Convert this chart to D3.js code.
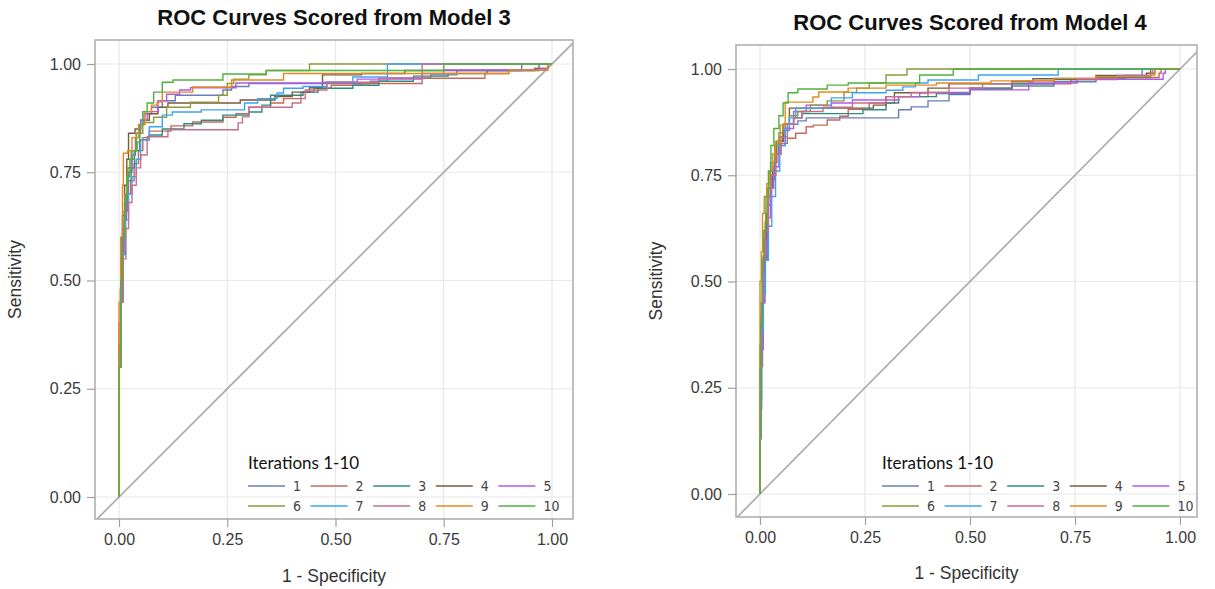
<!DOCTYPE html>
<meta charset="utf-8">
<style>
body { margin: 0; background: #fff; }
text { font-family: "Liberation Sans", Arial, sans-serif; fill: #333; }
.grid line { stroke: #e8e8e8; stroke-width: 1.2px; }
.frame { fill: none; stroke: #b0b0b0; stroke-width: 1.6px; }
.diag { stroke: #a9a9a9; stroke-width: 1.6px; }
.axis path { display: none; }
.axis line { stroke: #a0a0a0; stroke-width: 1.2px; }
.axis text { font-size: 16px; fill: #3a3a3a; }
.title { font-size: 22px; font-weight: bold; fill: #111; }
.alabel { font-size: 17.5px; fill: #333; }
.ltitle { font-family: Lato, "Open Sans", sans-serif; font-size: 17px; fill: #111; }
.lnum { font-family: "DejaVu Sans Condensed", "DejaVu Sans", sans-serif; font-stretch: condensed; font-size: 14px; fill: #444; }
.roc { fill: none; stroke-width: 1.4px; }
</style>
<svg width="1215" height="589"></svg>
<script src="https://cdn.jsdelivr.net/npm/d3@7"></script>
<script>

var iterations = ["1", "2", "3", "4", "5", "6", "7", "8", "9", "10"];
var colors = ["#6b7dbf", "#c7685a", "#2e8c80", "#7a5a38", "#b05ae6",
              "#8f9a3a", "#3fa2f5", "#c66e8f", "#e38a1f", "#4db33f"];
var ticks = [0, 0.25, 0.5, 0.75, 1];

// Model 3, points are [1 - specificity, sensitivity]
var m3_1 = [[0,0],[0,0.33],[0.004,0.45],[0.008,0.56],[0.012,0.64],[0.017,0.7],[0.022,0.75],[0.03,0.79],[0.038,0.83],[0.047,0.86],[0.058,0.885],[0.075,0.9],[0.1,0.915],[0.13,0.928],[0.24,0.94],[0.26,0.948],[0.3,0.955],[0.58,0.96],[0.62,0.968],[0.72,0.975],[0.78,0.985],[0.93,1],[1,1]];
var m3_2 = [[0,0],[0,0.4],[0.003,0.48],[0.006,0.6],[0.012,0.66],[0.02,0.7],[0.027,0.73],[0.035,0.77],[0.045,0.8],[0.055,0.83],[0.07,0.845],[0.12,0.857],[0.17,0.866],[0.24,0.877],[0.27,0.885],[0.3,0.9],[0.35,0.91],[0.38,0.92],[0.42,0.935],[0.45,0.944],[0.49,0.951],[0.56,0.955],[0.7,0.967],[0.845,0.978],[0.9,0.986],[0.99,1],[1,1]];
var m3_3 = [[0,0],[0,0.32],[0.004,0.5],[0.008,0.6],[0.013,0.68],[0.02,0.73],[0.028,0.76],[0.036,0.8],[0.048,0.825],[0.07,0.836],[0.1,0.85],[0.15,0.862],[0.19,0.87],[0.24,0.882],[0.3,0.889],[0.33,0.905],[0.35,0.928],[0.425,0.935],[0.46,0.944],[0.54,0.951],[0.6,0.96],[0.68,0.972],[0.76,0.978],[0.85,0.985],[0.97,1],[1,1]];
var m3_4 = [[0,0],[0,0.35],[0.004,0.55],[0.008,0.65],[0.013,0.72],[0.018,0.78],[0.022,0.84],[0.037,0.85],[0.05,0.87],[0.07,0.885],[0.09,0.9],[0.113,0.91],[0.28,0.917],[0.36,0.925],[0.4,0.935],[0.44,0.945],[0.47,0.975],[0.56,0.978],[0.66,0.985],[0.96,0.99],[0.99,1],[1,1]];
var m3_5 = [[0,0],[0,0.3],[0.005,0.5],[0.01,0.62],[0.015,0.7],[0.02,0.76],[0.03,0.8],[0.04,0.84],[0.05,0.87],[0.065,0.89],[0.09,0.915],[0.11,0.93],[0.14,0.94],[0.165,0.945],[0.27,0.956],[0.47,0.958],[0.55,0.965],[0.7,0.978],[0.75,0.986],[0.97,0.99],[0.99,1],[1,1]];
var m3_6 = [[0,0],[0,0.35],[0.004,0.52],[0.008,0.62],[0.013,0.7],[0.02,0.76],[0.028,0.8],[0.04,0.84],[0.055,0.865],[0.08,0.877],[0.11,0.9],[0.165,0.912],[0.23,0.928],[0.25,0.955],[0.265,0.965],[0.3,0.975],[0.34,0.985],[0.44,1],[1,1]];
var m3_7 = [[0,0],[0,0.33],[0.005,0.45],[0.01,0.56],[0.015,0.64],[0.022,0.7],[0.03,0.74],[0.04,0.78],[0.05,0.825],[0.07,0.855],[0.1,0.882],[0.123,0.889],[0.19,0.894],[0.29,0.91],[0.32,0.92],[0.365,0.933],[0.38,0.944],[0.425,0.948],[0.48,0.958],[0.54,0.97],[0.62,1],[1,1]];
var m3_8 = [[0,0],[0,0.3],[0.005,0.45],[0.01,0.55],[0.016,0.62],[0.022,0.68],[0.03,0.72],[0.04,0.76],[0.05,0.79],[0.065,0.832],[0.113,0.848],[0.275,0.864],[0.285,0.878],[0.3,0.9],[0.4,0.91],[0.42,0.92],[0.43,0.94],[0.48,0.958],[0.6,0.967],[0.7,1],[1,1]];
var m3_9 = [[0,0],[0,0.45],[0.004,0.6],[0.008,0.72],[0.01,0.794],[0.02,0.8],[0.03,0.83],[0.045,0.86],[0.06,0.89],[0.075,0.905],[0.088,0.912],[0.1,0.935],[0.17,0.947],[0.26,0.963],[0.38,0.978],[0.9,0.986],[0.99,1],[1,1]];
var m3_10 = [[0,0],[0,0.3],[0.004,0.5],[0.008,0.6],[0.013,0.68],[0.018,0.74],[0.025,0.78],[0.035,0.8],[0.042,0.82],[0.048,0.86],[0.055,0.89],[0.065,0.91],[0.08,0.935],[0.1,0.958],[0.125,0.963],[0.24,0.977],[0.34,0.985],[0.75,1],[1,1]];

// Model 4
var m4_1 = [[0,0],[0,0.13],[0.003,0.3],[0.006,0.45],[0.01,0.55],[0.015,0.63],[0.02,0.7],[0.027,0.75],[0.035,0.8],[0.045,0.83],[0.055,0.855],[0.07,0.87],[0.09,0.878],[0.11,0.885],[0.33,0.904],[0.36,0.911],[0.4,0.925],[0.45,0.94],[0.5,0.952],[0.6,0.96],[0.7,0.97],[0.8,0.978],[0.87,0.985],[0.91,1],[1,1]];
var m4_2 = [[0,0],[0,0.35],[0.003,0.45],[0.007,0.55],[0.012,0.62],[0.018,0.7],[0.025,0.76],[0.035,0.8],[0.05,0.825],[0.065,0.837],[0.085,0.849],[0.11,0.864],[0.127,0.868],[0.16,0.88],[0.19,0.889],[0.21,0.905],[0.26,0.92],[0.32,0.935],[0.4,0.945],[0.5,0.955],[0.6,0.965],[0.74,0.975],[0.85,0.98],[0.95,0.99],[0.955,1],[1,1]];
var m4_3 = [[0,0],[0,0.2],[0.003,0.4],[0.007,0.52],[0.012,0.6],[0.018,0.68],[0.025,0.74],[0.035,0.8],[0.045,0.84],[0.06,0.87],[0.08,0.885],[0.1,0.895],[0.245,0.904],[0.3,0.92],[0.33,0.935],[0.42,0.942],[0.5,0.955],[0.6,0.965],[0.7,0.975],[0.8,0.98],[0.93,0.99],[0.94,1],[1,1]];
var m4_4 = [[0,0],[0,0.25],[0.002,0.42],[0.006,0.52],[0.01,0.6],[0.015,0.66],[0.02,0.72],[0.03,0.78],[0.04,0.83],[0.055,0.87],[0.07,0.908],[0.27,0.915],[0.3,0.935],[0.32,0.944],[0.4,0.955],[0.45,0.965],[0.6,0.97],[0.65,0.977],[0.8,0.985],[0.92,0.99],[0.93,1],[1,1]];
var m4_5 = [[0,0],[0,0.2],[0.004,0.34],[0.008,0.45],[0.012,0.55],[0.018,0.65],[0.025,0.72],[0.033,0.77],[0.045,0.82],[0.06,0.86],[0.08,0.9],[0.11,0.915],[0.17,0.92],[0.22,0.927],[0.33,0.935],[0.38,0.944],[0.5,0.951],[0.64,0.967],[0.755,0.976],[0.96,0.99],[0.965,1],[1,1]];
var m4_6 = [[0,0],[0,0.3],[0.003,0.45],[0.007,0.56],[0.012,0.64],[0.018,0.72],[0.025,0.78],[0.035,0.82],[0.045,0.85],[0.055,0.87],[0.07,0.89],[0.09,0.9],[0.12,0.915],[0.16,0.925],[0.2,0.945],[0.23,0.955],[0.26,0.967],[0.3,0.986],[0.35,1],[1,1]];
var m4_7 = [[0,0],[0,0.22],[0.004,0.38],[0.008,0.47],[0.013,0.55],[0.02,0.63],[0.028,0.7],[0.037,0.76],[0.047,0.82],[0.06,0.86],[0.07,0.885],[0.085,0.908],[0.17,0.932],[0.22,0.944],[0.3,0.95],[0.34,0.958],[0.37,0.967],[0.4,0.974],[0.52,0.986],[0.71,1],[1,1]];
var m4_8 = [[0,0],[0,0.3],[0.004,0.45],[0.008,0.55],[0.013,0.62],[0.02,0.7],[0.028,0.75],[0.038,0.8],[0.05,0.84],[0.065,0.87],[0.08,0.885],[0.1,0.9],[0.15,0.91],[0.22,0.92],[0.3,0.935],[0.36,0.945],[0.45,0.955],[0.53,0.965],[0.6,0.972],[0.7,0.978],[0.85,0.985],[0.93,0.99],[0.935,1],[1,1]];
var m4_9 = [[0,0],[0,0.5],[0.003,0.57],[0.006,0.66],[0.01,0.7],[0.016,0.73],[0.022,0.76],[0.03,0.8],[0.037,0.83],[0.048,0.868],[0.06,0.922],[0.126,0.934],[0.14,0.946],[0.21,0.955],[0.3,0.962],[0.42,0.967],[0.55,0.972],[0.7,0.978],[0.8,0.982],[0.93,0.986],[0.94,1],[1,1]];
var m4_10 = [[0,0],[0,0.14],[0.002,0.4],[0.005,0.55],[0.009,0.62],[0.014,0.7],[0.02,0.76],[0.026,0.82],[0.033,0.86],[0.045,0.89],[0.055,0.92],[0.067,0.944],[0.09,0.953],[0.16,0.962],[0.21,0.967],[0.38,0.986],[0.46,1],[1,1]];

var model3 = [m3_1, m3_2, m3_3, m3_4, m3_5, m3_6, m3_7, m3_8, m3_9, m3_10];
var model4 = [m4_1, m4_2, m4_3, m4_4, m4_5, m4_6, m4_7, m4_8, m4_9, m4_10];

var svg = d3.select("svg");

function drawPanel(p) {
  var x = d3.scaleLinear().domain([0, 1]).range([p.x0, p.x1]),
      y = d3.scaleLinear().domain([0, 1]).range([p.y0, p.y1]);
  var g = svg.append("g");

  g.append("clipPath").attr("id", p.id)
    .append("rect")
      .attr("x", p.left).attr("y", p.top)
      .attr("width", p.right - p.left).attr("height", p.bottom - p.top);

  var grid = g.append("g").attr("class", "grid");
  grid.selectAll(".vx").data(ticks).enter().append("line")
      .attr("x1", x).attr("x2", x)
      .attr("y1", p.top).attr("y2", p.bottom);
  grid.selectAll(".hy").data(ticks).enter().append("line")
      .attr("y1", y).attr("y2", y)
      .attr("x1", p.left).attr("x2", p.right);

  g.append("line").attr("class", "diag")
      .attr("clip-path", "url(#" + p.id + ")")
      .attr("x1", x(-0.2)).attr("y1", y(-0.2))
      .attr("x2", x(1.2)).attr("y2", y(1.2));

  // legend
  var lg = g.append("g");
  lg.append("text").attr("class", "ltitle")
      .attr("x", p.legX).attr("y", p.legY)
      .text("Iterations 1-10");
  var item = lg.selectAll(".item").data(iterations).enter().append("g")
      .attr("transform", function(d, i) {
        return "translate(" + (p.legX + (i % 5) * 62.6) + "," + (p.legY + 17 + Math.floor(i / 5) * 20) + ")";
      });
  item.append("line")
      .attr("x1", 0).attr("x2", 37)
      .attr("stroke", function(d, i) { return colors[i]; })
      .attr("stroke-width", 1.6);
  item.append("text").attr("class", "lnum")
      .attr("x", 45).attr("y", 5)
      .text(function(d) { return d; });

  var line = d3.line()
      .x(function(d) { return x(d[0]); })
      .y(function(d) { return y(d[1]); })
      .curve(d3.curveStepAfter);

  g.append("g").selectAll("path").data(p.curves).enter().append("path")
      .attr("class", "roc")
      .attr("stroke", function(d, i) { return colors[i]; })
      .attr("d", line);

  g.append("rect").attr("class", "frame")
      .attr("x", p.left).attr("y", p.top)
      .attr("width", p.right - p.left).attr("height", p.bottom - p.top);

  g.append("g").attr("class", "axis")
      .attr("transform", "translate(0," + p.bottom + ")")
      .call(d3.axisBottom(x).tickValues(ticks).tickFormat(d3.format(".2f")).tickSize(8).tickPadding(7));
  g.append("g").attr("class", "axis")
      .attr("transform", "translate(" + p.left + ",0)")
      .call(d3.axisLeft(y).tickValues(ticks).tickFormat(d3.format(".2f")).tickSize(8).tickPadding(6));

  g.append("text").attr("class", "title")
      .attr("x", p.titleX).attr("y", p.titleY)
      .attr("text-anchor", "middle")
      .text(p.title);
  g.append("text").attr("class", "alabel")
      .attr("x", (p.left + p.right) / 2).attr("y", p.xlabY)
      .attr("text-anchor", "middle")
      .text("1 - Specificity");
  g.append("text").attr("class", "alabel")
      .attr("transform", "translate(" + p.ylabX + "," + ((p.top + p.bottom) / 2) + ") rotate(-90)")
      .attr("text-anchor", "middle")
      .text("Sensitivity");
}

drawPanel({
  id: "clip3", curves: model3, title: "ROC Curves Scored from Model 3",
  x0: 119, x1: 552, y0: 497, y1: 64,
  left: 95, right: 573, top: 40, bottom: 519,
  titleX: 334, titleY: 25, xlabY: 582, ylabX: 21,
  legX: 248, legY: 469
});

drawPanel({
  id: "clip4", curves: model4, title: "ROC Curves Scored from Model 4",
  x0: 760, x1: 1180, y0: 494, y1: 69,
  left: 736, right: 1197, top: 45, bottom: 517,
  titleX: 970, titleY: 30, xlabY: 579, ylabX: 662,
  legX: 882, legY: 469
});

</script>
